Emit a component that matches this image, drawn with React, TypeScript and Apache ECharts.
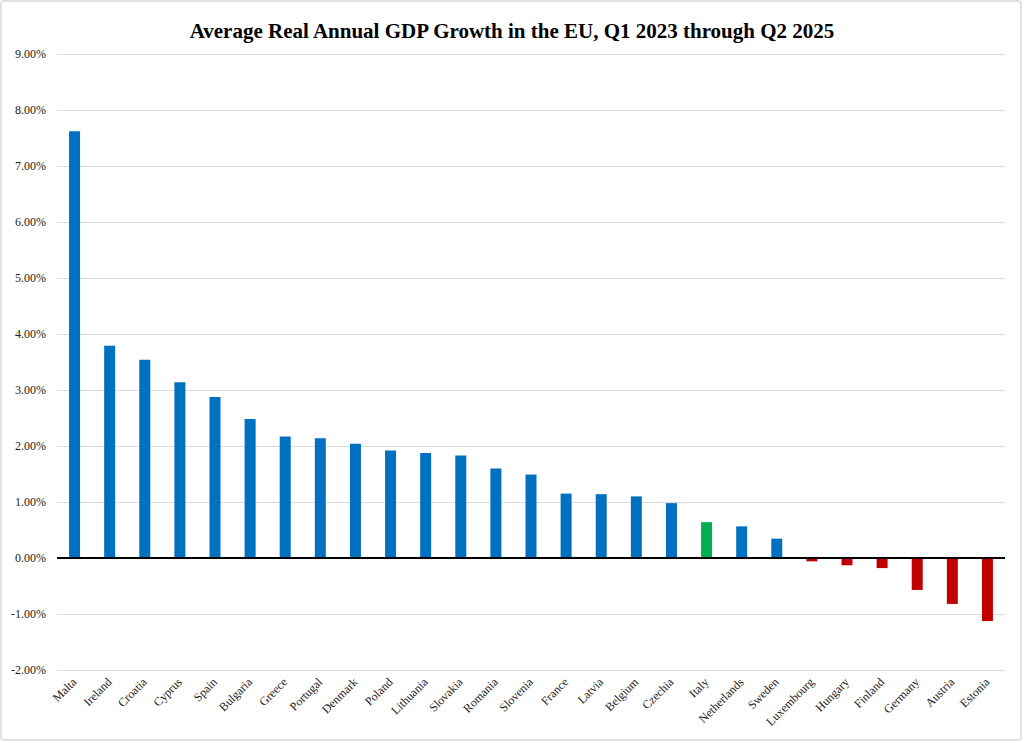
import React, { useEffect, useRef } from "react";
import * as echarts from "echarts";

const countries = [
  "Malta", "Ireland", "Croatia", "Cyprus", "Spain", "Bulgaria", "Greece", "Portugal",
  "Denmark", "Poland", "Lithuania", "Slovakia", "Romania", "Slovenia", "France", "Latvia",
  "Belgium", "Czechia", "Italy", "Netherlands", "Sweden", "Luxembourg", "Hungary", "Finland",
  "Germany", "Austria", "Estonia",
];

const growth = [
  7.62, 3.79, 3.54, 3.14, 2.875, 2.48, 2.17, 2.14,
  2.04, 1.92, 1.875, 1.83, 1.6, 1.49, 1.15, 1.14,
  1.1, 0.98, 0.64, 0.565, 0.345, -0.06, -0.13, -0.18,
  -0.57, -0.82, -1.125,
];

const highlighted = ["Italy"];

const COLOR_POS = "#0070C0";
const COLOR_NEG = "#C00000";
const COLOR_HL = "#00B050";

const SERIF = "'Liberation Serif', 'Times New Roman', serif";

export default function App() {
  const ref = useRef<HTMLDivElement>(null);

  useEffect(() => {
    document.body.style.margin = "0";
    if (!ref.current) return;
    const chart = echarts.init(ref.current, undefined, { renderer: "svg" });
    const data = growth.map((v, i) => ({
      value: v,
      itemStyle: {
        color: highlighted.includes(countries[i]) ? COLOR_HL : v < 0 ? COLOR_NEG : COLOR_POS,
      },
    }));
    chart.setOption({
      animation: false,
      backgroundColor: "#ffffff",
      textStyle: { fontFamily: SERIF },
      title: {
        text: "Average Real Annual GDP Growth in the EU, Q1 2023 through Q2 2025",
        left: "center",
        top: 15,
        textStyle: { fontFamily: SERIF, fontWeight: "bold", fontSize: 21, color: "#000" },
      },
      graphic: [
        {
          type: "rect",
          shape: { x: 1, y: 1, width: 1020, height: 739, r: 3 },
          style: { fill: "none", stroke: "#e2e2e2", lineWidth: 2 },
          silent: true,
        },
      ],
      grid: { left: 57, right: 19, top: 54, bottom: 73 },
      xAxis: {
        type: "category",
        data: countries,
        axisLine: { show: false, onZero: false },
        axisTick: { show: false },
        axisLabel: {
          rotate: 45,
          interval: 0,
          margin: 10,
          fontFamily: SERIF,
          fontSize: 12,
          color: "#222",
        },
      },
      yAxis: {
        type: "value",
        min: -2,
        max: 9,
        interval: 1,
        axisLine: { show: false },
        axisTick: { show: false },
        splitLine: { lineStyle: { color: "#dcdcdc", width: 1 } },
        axisLabel: {
          margin: 11,
          fontFamily: SERIF,
          fontSize: 12,
          color: "#222",
          formatter: (v: number) => v.toFixed(2) + "%",
        },
      },
      series: [
        {
          type: "bar",
          data,
          barWidth: 11,
          markLine: {
            silent: true,
            symbol: "none",
            label: { show: false },
            lineStyle: { color: "#000", width: 2, type: "solid" },
            data: [{ yAxis: 0 }],
          },
        },
      ],
    });
    return () => chart.dispose();
  }, []);

  return <div ref={ref} style={{ width: 1024, height: 743 }} />;
}
